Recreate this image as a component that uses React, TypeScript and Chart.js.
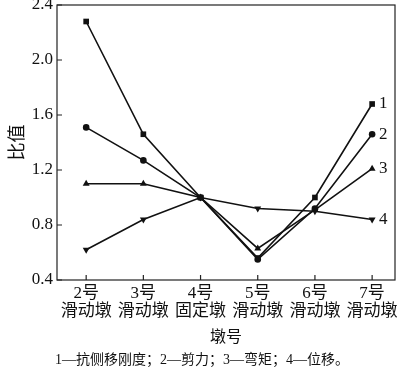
import React, { useEffect, useRef } from "react";
import { Chart, registerables } from "chart.js";

Chart.register(...registerables);

const pierNumbers = ["2号", "3号", "4号", "5号", "6号", "7号"];
const pierTypes = ["滑动墩", "滑动墩", "固定墩", "滑动墩", "滑动墩", "滑动墩"];
const pierPositions = [2, 3, 4, 5, 6, 7];

const stiffness = [2.28, 1.46, 1.0, 0.56, 1.0, 1.68];
const shear = [1.51, 1.27, 1.0, 0.55, 0.92, 1.46];
const moment = [1.1, 1.1, 1.0, 0.63, 0.91, 1.21];
const displacement = [0.62, 0.84, 1.0, 0.92, 0.9, 0.84];

const seriesNames = ["1", "2", "3", "4"];
const yTicks = [0.4, 0.8, 1.2, 1.6, 2.0, 2.4];
const caption = "1—抗侧移刚度；2—剪力；3—弯矩；4—位移。";

const SERIF = "'Liberation Serif', 'Times New Roman', 'Noto Sans CJK SC', serif";

const toPoints = (vals: number[]) => vals.map((v, i) => ({ x: pierPositions[i], y: v }));

const frame = {
  id: "frame",
  afterDraw(chart: any) {
    const { ctx, chartArea } = chart;
    const { left, right, top, bottom } = chartArea;
    ctx.save();
    ctx.strokeStyle = "#222";
    ctx.lineWidth = 1.2;
    ctx.strokeRect(left, top, right - left, bottom - top);
    const ys = chart.scales.y;
    const xs = chart.scales.x;
    ctx.beginPath();
    yTicks.forEach((v) => {
      const py = ys.getPixelForValue(v);
      ctx.moveTo(left, py);
      ctx.lineTo(left + 5, py);
    });
    pierPositions.forEach((v) => {
      const px = xs.getPixelForValue(v);
      ctx.moveTo(px, bottom);
      ctx.lineTo(px, bottom - 5);
    });
    ctx.stroke();
    ctx.restore();
  },
};

const endLabels = {
  id: "endLabels",
  afterDatasetsDraw(chart: any) {
    const { ctx } = chart;
    ctx.save();
    ctx.font = `17px ${SERIF}`;
    ctx.fillStyle = "#111";
    ctx.textBaseline = "middle";
    ctx.textAlign = "left";
    chart.data.datasets.forEach((ds: any, i: number) => {
      const meta = chart.getDatasetMeta(i);
      const last = meta.data[meta.data.length - 1];
      ctx.fillText(seriesNames[i], last.x + 7, last.y);
    });
    ctx.restore();
  },
};

export default function App() {
  const ref = useRef<HTMLCanvasElement | null>(null);

  useEffect(() => {
    document.body.style.margin = "0";
    const common = {
      borderColor: "#111",
      backgroundColor: "#111",
      borderWidth: 1.6,
      pointBorderWidth: 0,
      tension: 0,
    };
    const chart = new Chart(ref.current as HTMLCanvasElement, {
      type: "line",
      data: {
        datasets: [
          { ...common, label: seriesNames[0], data: toPoints(stiffness), pointStyle: "rect", pointRadius: 4 },
          { ...common, label: seriesNames[1], data: toPoints(shear), pointStyle: "circle", pointRadius: 3.3 },
          { ...common, label: seriesNames[2], data: toPoints(moment), pointStyle: "triangle", pointRadius: 4 },
          { ...common, label: seriesNames[3], data: toPoints(displacement), pointStyle: "triangle", pointRotation: 180, pointRadius: 4 },
        ],
      },
      options: {
        responsive: false,
        animation: false,
        layout: { padding: { top: 5, right: 5, left: 0, bottom: 30 } },
        plugins: { legend: { display: false }, tooltip: { enabled: false } },
        scales: {
          x: {
            type: "linear",
            min: 1.49,
            max: 7.4,
            grid: { display: false, drawTicks: false },
            border: { display: false },
            afterBuildTicks: (scale: any) => {
              scale.ticks = pierPositions.map((v) => ({ value: v }));
            },
            afterFit: (scale: any) => {
              scale.height = 65;
              scale.paddingLeft = 0;
              scale.paddingRight = 0;
            },
            ticks: {
              autoSkip: false,
              maxRotation: 0,
              padding: 5,
              color: "#111",
              font: { family: SERIF, size: 17, lineHeight: 1.05 },
              callback: (v: any) => {
                const i = pierPositions.indexOf(Number(v));
                return i >= 0 ? [pierNumbers[i], pierTypes[i]] : "";
              },
            },
            title: {
              display: true,
              text: "墩号",
              color: "#111",
              font: { family: SERIF, size: 16, lineHeight: 1.2 },
              padding: { top: 0, bottom: -2 },
            },
          },
          y: {
            type: "linear",
            min: 0.4,
            max: 2.4,
            grid: { display: false, drawTicks: false },
            border: { display: false },
            afterBuildTicks: (scale: any) => {
              scale.ticks = yTicks.map((v) => ({ value: v }));
            },
            afterFit: (scale: any) => {
              scale.width = 57;
              scale.paddingTop = 0;
              scale.paddingBottom = 0;
            },
            ticks: {
              padding: 4,
              color: "#111",
              font: { family: SERIF, size: 17 },
              callback: (v: any) => Number(v).toFixed(1),
            },
            title: {
              display: true,
              text: "比值",
              color: "#111",
              font: { family: SERIF, size: 18, lineHeight: 1.2 },
              padding: { top: 7, bottom: 0 },
            },
          },
        },
      },
      plugins: [frame, endLabels],
    });
    return () => chart.destroy();
  }, []);

  return (
    <div style={{ position: "relative", width: 400, height: 375, background: "#fff" }}>
      <canvas ref={ref} width={400} height={375} style={{ display: "block" }} />
      <div
        style={{
          position: "absolute",
          left: 0,
          top: 348,
          width: 404,
          textAlign: "center",
          fontFamily: SERIF,
          fontSize: 14,
          color: "#111",
          whiteSpace: "nowrap",
        }}
      >
        {caption}
      </div>
    </div>
  );
}
